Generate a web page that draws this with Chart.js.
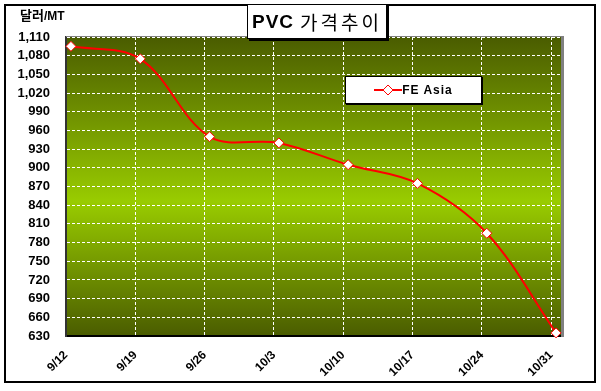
<!DOCTYPE html>
<html>
<head>
<meta charset="utf-8">
<script src="https://cdn.jsdelivr.net/npm/chart.js@4.4.1/dist/chart.umd.min.js"></script>
<style>
  html, body { margin:0; padding:0; background:#fff; }
  #wrap { position:relative; width:601px; height:391px; }
  #c { position:absolute; left:0; top:0; }
  #title { position:absolute; left:247px; top:4px; width:138px; height:33px; background:#fff;
    border:1px solid #000; box-shadow:2px 2px 0 #000; display:flex; align-items:center; justify-content:center;
    white-space:nowrap; }
  #title .en { font-family:"Liberation Sans", Arial, sans-serif; font-weight:bold; font-size:19px; letter-spacing:1px; }
  #title .ko { font-family:"Noto Sans CJK KR", sans-serif; font-size:19px; letter-spacing:3px; margin-left:6px; }
  #unit { position:absolute; left:20px; top:5px; font-family:"Noto Sans CJK KR", sans-serif; font-weight:bold; font-size:13px; }
  #unit .mt { font-family:"Liberation Sans", Arial, sans-serif; font-size:12px; }
  #legend { position:absolute; left:345px; top:76px; width:135px; height:26px; background:#fff; border:1px solid #000;
    box-shadow:1px 1px 0 #000; display:flex; align-items:center; justify-content:center; }
  #legend span { font-family:"Liberation Sans", Arial, sans-serif; font-weight:bold; font-size:12px; letter-spacing:1px; margin-left:0px; }
</style>
</head>
<body>
<div id="wrap">
  <canvas id="c" width="601" height="391"></canvas>
  <div id="unit">달러<span class="mt">/MT</span></div>
  <div id="title"><span class="en">PVC</span><span class="ko">가격추이</span></div>
  <div id="legend"><svg width="28" height="12"><line x1="0" y1="6" x2="28" y2="6" stroke="#ff0000" stroke-width="2"/><polygon points="14,1 19,6 14,11 9,6" fill="#fff" stroke="#ff0000" stroke-width="1"/></svg><span id="legtxt">FE Asia</span></div>
</div>
<script>
// ---- data ----
const tickLabels = ['9/12','9/19','9/26','10/3','10/10','10/17','10/24','10/31'];
const tickDays   = [0, 7, 14, 21, 28, 35, 42, 49];
const pointDays  = [0.5, 7.5, 14.5, 21.5, 28.5, 35.5, 42.5, 49.5];
const seriesName = 'FE Asia';
const feAsia     = [1095, 1075, 950, 940, 905, 875, 795, 635];
const yMin = 630, yMax = 1110, yStep = 30;

document.getElementById('legtxt').textContent = seriesName;

const bgPlugin = {
  id: 'bg',
  beforeDraw(chart) {
    const {ctx, chartArea: a} = chart;
    ctx.save();
    ctx.fillStyle = '#fff';
    ctx.fillRect(0, 0, chart.width, chart.height);
    const g = ctx.createLinearGradient(0, a.top, 0, a.bottom);
    g.addColorStop(0, '#4a5c00');
    g.addColorStop(0.55, '#99cc00');
    g.addColorStop(1, '#4a5c00');
    ctx.fillStyle = g;
    ctx.fillRect(a.left, a.top, a.right - a.left, a.bottom - a.top);
    ctx.restore();
  },
  beforeDatasetsDraw(chart) {
    const {ctx, chartArea: a} = chart;
    ctx.save();
    ctx.fillStyle = '#808080';
    ctx.fillRect(a.left, a.top - 1, a.right - a.left, 1);
    ctx.fillRect(a.right, a.top - 1, 3, a.bottom - a.top + 2);
    ctx.restore();
  },
  afterDraw(chart) {
    const {ctx} = chart;
    ctx.save();
    ctx.strokeStyle = '#000';
    ctx.lineWidth = 2;
    ctx.strokeRect(5, 5, 590, 377);
    ctx.restore();
  }
};

const yTicks = [];
for (let v = yMin; v <= yMax; v += yStep) yTicks.push(v);

new Chart(document.getElementById('c'), {
  type: 'line',
  data: {
    datasets: [{
      label: seriesName,
      data: pointDays.map((d, i) => ({x: d, y: feAsia[i]})),
      borderColor: '#ff0000',
      borderWidth: 2,
      tension: 0.35,
      pointStyle: 'rectRot',
      pointRadius: 5,
      pointHoverRadius: 5,
      pointBackgroundColor: '#ffffff',
      pointBorderColor: '#ff0000',
      pointBorderWidth: 1,
      clip: false
    }]
  },
  options: {
    responsive: false,
    animation: false,
    devicePixelRatio: 1,
    layout: { padding: { left: 0, top: 37, right: 40, bottom: 0 } },
    plugins: { legend: { display: false }, tooltip: { enabled: false } },
    scales: {
      x: {
        type: 'linear', min: 0, max: 50,
        afterBuildTicks(s) { s.ticks = tickDays.map(v => ({value: v})); },
        afterFit(s) { s.height = 55; },
        grid: { color: '#ffffff', lineWidth: 1, drawTicks: false },
        border: { display: true, color: '#000', width: 2, dash: [3, 2] },
        ticks: {
          autoSkip: false, minRotation: 45, maxRotation: 45, padding: 12,
          color: '#000', font: { family: '"Liberation Sans", Arial, sans-serif', size: 12, weight: 'bold' },
          callback(v) { const i = tickDays.indexOf(v); return i >= 0 ? tickLabels[i] : ''; }
        }
      },
      y: {
        min: yMin, max: yMax,
        afterBuildTicks(s) { s.ticks = yTicks.map(v => ({value: v})); },
        afterFit(s) { s.width = 66; },
        grid: { color: '#ffffff', lineWidth: 1, drawTicks: false },
        border: { display: true, color: '#333', width: 2, dash: [3, 2] },
        ticks: {
          padding: 16, color: '#000',
          font: { family: '"Liberation Sans", Arial, sans-serif', size: 13, weight: 'bold' },
          callback(v) { return v.toLocaleString('en-US'); }
        }
      }
    }
  },
  plugins: [bgPlugin]
});
</script>
</body>
</html>
